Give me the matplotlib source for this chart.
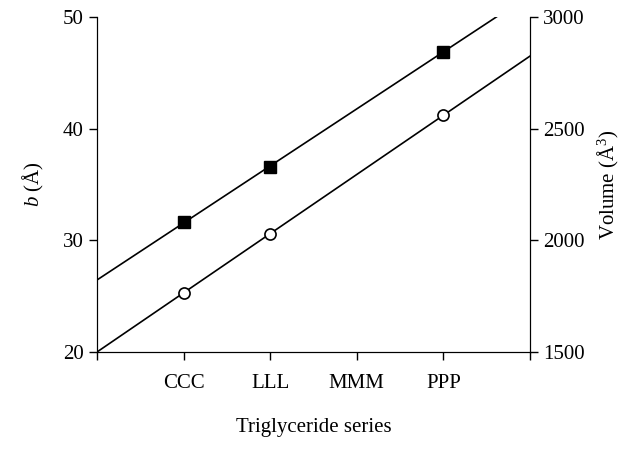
import numpy as np
import matplotlib
matplotlib.use("Agg")
import matplotlib.pyplot as plt

plt.rcParams["font.family"] = ["Liberation Serif", "DejaVu Serif"]
plt.rcParams["mathtext.fontset"] = "custom"
plt.rcParams["mathtext.it"] = "Liberation Serif:italic"
plt.rcParams["mathtext.rm"] = "Liberation Serif"

categories = ["CCC", "LLL", "MMM", "PPP"]
b_pos = [1, 2, 4]
b_vals = [31.6, 36.6, 46.9]
vol_pos = [1, 2, 4]
vol_vals = [1765, 2030, 2560]

fig = plt.figure(figsize=(6.4, 4.51), dpi=100)
ax = fig.add_axes([97 / 640, 1 - 352 / 451, 433 / 640, 335 / 451])
ax2 = ax.twinx()

xs = np.array([0, 5])
pb = np.polyfit(b_pos, b_vals, 1)
ax.plot(xs, np.polyval(pb, xs), color="black", lw=1.2)
ax.plot(b_pos, b_vals, "s", color="black", ms=8)

pv = np.polyfit(vol_pos, vol_vals, 1)
ax2.plot(xs, np.polyval(pv, xs), color="black", lw=1.2)
ax2.plot(vol_pos, vol_vals, "o", mfc="white", mec="black", mew=1.2, ms=8)

ax.set_xlim(0, 5)
ax.set_ylim(20, 50)
ax2.set_ylim(1500, 3000)
ax.set_yticks([20, 30, 40, 50])
ax2.set_yticks([1500, 2000, 2500, 3000])
ax.set_xticks(range(0, 6))
ax.set_xticklabels([""] + categories + [""])
for a in (ax, ax2):
    a.spines["top"].set_visible(False)
    a.tick_params(labelsize=15, length=6, width=1)
ax.tick_params(axis="x", pad=10)
ax.set_xlabel("Triglyceride series", fontsize=15, labelpad=18)
ax.set_ylabel(r"$b$ (Å)", fontsize=15, labelpad=12)
ax2.set_ylabel(r"Volume (Å$^3$)", fontsize=15, labelpad=8)

fig.savefig("out.png", dpi=100)
